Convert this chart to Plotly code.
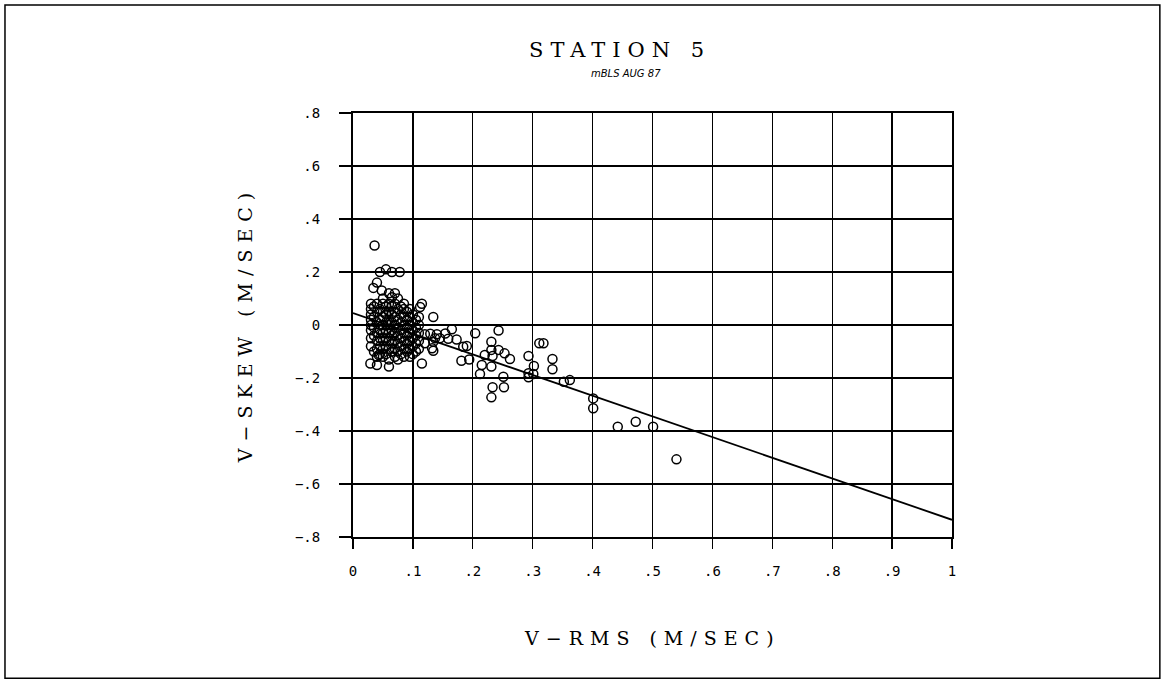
import plotly.graph_objects as go

# ---- data ----
# dense cluster near the origin
cluster_x = [
    0.030, 0.030, 0.030, 0.030, 0.030, 0.030, 0.030, 0.030,
    0.035, 0.035, 0.035, 0.035, 0.035,
    0.040, 0.040, 0.040, 0.040, 0.040, 0.040, 0.040,
    0.045, 0.045, 0.045, 0.045, 0.045, 0.045,
    0.050, 0.050, 0.050, 0.050, 0.050, 0.050, 0.050, 0.050,
    0.055, 0.055, 0.055, 0.055, 0.055, 0.055, 0.055,
    0.060, 0.060, 0.060, 0.060, 0.060, 0.060, 0.060, 0.060,
    0.065, 0.065, 0.065, 0.065, 0.065, 0.065, 0.065,
    0.070, 0.070, 0.070, 0.070, 0.070, 0.070, 0.070, 0.070,
    0.075, 0.075, 0.075, 0.075, 0.075, 0.075, 0.075,
    0.080, 0.080, 0.080, 0.080, 0.080, 0.080, 0.080,
    0.085, 0.085, 0.085, 0.085, 0.085, 0.085, 0.085,
    0.090, 0.090, 0.090, 0.090, 0.090, 0.090,
    0.095, 0.095, 0.095, 0.095, 0.095, 0.095, 0.095,
    0.100, 0.100, 0.100, 0.100, 0.100, 0.100,
    0.105, 0.105, 0.105, 0.105, 0.105,
    0.110, 0.110, 0.110, 0.110, 0.110,
]
cluster_y = [
    0.08, 0.06, 0.04, 0.02, 0.00, -0.02, -0.05, -0.08,
    0.07, 0.03, -0.01, -0.04, -0.10,
    0.08, 0.05, 0.01, -0.03, -0.06, -0.09, -0.12,
    0.06, 0.02, -0.02, -0.05, -0.08, -0.11,
    0.08, 0.05, 0.03, 0.00, -0.03, -0.06, -0.09, -0.12,
    0.07, 0.04, 0.01, -0.02, -0.05, -0.08, -0.11,
    0.08, 0.05, 0.02, 0.00, -0.03, -0.06, -0.09, -0.13,
    0.07, 0.04, 0.01, -0.02, -0.04, -0.07, -0.10,
    0.08, 0.05, 0.03, 0.00, -0.03, -0.06, -0.09, -0.12,
    0.06, 0.02, -0.01, -0.04, -0.07, -0.10, -0.13,
    0.07, 0.04, 0.01, -0.02, -0.05, -0.08, -0.11,
    0.06, 0.03, 0.00, -0.03, -0.06, -0.09, -0.12,
    0.05, 0.02, -0.01, -0.04, -0.07, -0.10,
    0.06, 0.03, 0.00, -0.03, -0.06, -0.09, -0.12,
    0.04, 0.01, -0.02, -0.05, -0.08, -0.11,
    0.02, -0.01, -0.04, -0.07, -0.10,
    0.03, 0.00, -0.03, -0.06, -0.09,
]

# sparser points above the cluster
upper_x = [0.036, 0.045, 0.055, 0.065, 0.078, 0.040, 0.034, 0.048, 0.060,
           0.070, 0.065, 0.115, 0.112, 0.134, 0.085, 0.050, 0.075]
upper_y = [0.30, 0.20, 0.21, 0.20, 0.20, 0.16, 0.14, 0.13, 0.12,
           0.12, 0.105, 0.08, 0.068, 0.03, 0.08, 0.10, 0.10]

# points spreading out to larger V-RMS
spread_x = [0.029, 0.040, 0.060, 0.043, 0.115, 0.120, 0.129, 0.140, 0.154,
            0.165, 0.204, 0.243, 0.145, 0.159, 0.173, 0.134, 0.120, 0.137,
            0.190, 0.184, 0.134, 0.132, 0.181, 0.194, 0.231, 0.231, 0.243,
            0.253, 0.262, 0.220, 0.233, 0.215, 0.231, 0.212, 0.251, 0.311,
            0.318, 0.293, 0.333, 0.302, 0.333, 0.293, 0.301, 0.293, 0.352,
            0.362, 0.233, 0.252, 0.231, 0.401, 0.401, 0.442, 0.472, 0.501,
            0.540]
spread_y = [-0.145, -0.151, -0.157, -0.113, -0.145, -0.035, -0.033, -0.035, -0.032,
            -0.016, -0.031, -0.021, -0.050, -0.052, -0.055, -0.063, -0.069, -0.050,
            -0.079, -0.082, -0.097, -0.088, -0.135, -0.130, -0.063, -0.094, -0.094,
            -0.107, -0.128, -0.113, -0.117, -0.151, -0.157, -0.185, -0.195, -0.069,
            -0.069, -0.117, -0.128, -0.155, -0.167, -0.182, -0.185, -0.197, -0.214,
            -0.208, -0.235, -0.235, -0.273, -0.277, -0.314, -0.384, -0.365, -0.384,
            -0.507]

# fitted line end points
fit_x = [0.0, 1.0]
fit_y = [0.045, -0.735]

# ticks
x_ticks = [0, 0.1, 0.2, 0.3, 0.4, 0.5, 0.6, 0.7, 0.8, 0.9, 1.0]
x_labels = ["0", ".1", ".2", ".3", ".4", ".5", ".6", ".7", ".8", ".9", "1"]
y_ticks = [0.8, 0.6, 0.4, 0.2, 0, -0.2, -0.4, -0.6, -0.8]
y_labels = [".8", ".6", ".4", ".2", "0", "\u2212.2", "\u2212.4", "\u2212.6", "\u2212.8"]

# ---- figure ----
fig = go.Figure()
fig.add_trace(go.Scatter(
    x=cluster_x + upper_x + spread_x,
    y=cluster_y + upper_y + spread_y,
    mode="markers",
    marker=dict(symbol="circle-open", size=9, color="black",
                line=dict(width=1.5, color="black")),
    showlegend=False, hoverinfo="skip",
))
fig.add_trace(go.Scatter(
    x=fit_x, y=fit_y, mode="lines",
    line=dict(color="black", width=1.8),
    showlegend=False, hoverinfo="skip",
))

tick_font = dict(family="DejaVu Sans Mono", size=14, color="black")
title_font = "DejaVu Serif"

fig.update_layout(
    width=1167, height=683,
    paper_bgcolor="white", plot_bgcolor="white",
    margin=dict(l=353, r=215, t=113, b=146),
    xaxis=dict(range=[0, 1], tickvals=x_ticks, ticktext=x_labels,
               showgrid=True, gridcolor="black", gridwidth=1.2,
               showline=True, linecolor="black", linewidth=2, mirror=True,
               ticks="outside", ticklen=10, tickcolor="black", tickwidth=1.2,
               ticklabelstandoff=10, zeroline=False, tickfont=tick_font),
    yaxis=dict(range=[-0.8, 0.8], tickvals=y_ticks, ticktext=y_labels,
               showgrid=True, gridcolor="black", gridwidth=1.8,
               showline=True, linecolor="black", linewidth=2, mirror=True,
               ticks="outside", ticklen=12, tickcolor="black", tickwidth=1.5,
               ticklabelstandoff=16, zeroline=False, tickfont=tick_font),
    annotations=[
        dict(text='<span style="letter-spacing:7px">STATION 5</span>',
             xref="paper", yref="paper", x=0.445, y=1.149,
             xanchor="center", yanchor="middle", showarrow=False,
             font=dict(family=title_font, size=21, color="black")),
        dict(text="<i>mBLS AUG 87</i>",
             xref="paper", yref="paper", x=0.456, y=1.094,
             xanchor="center", yanchor="middle", showarrow=False,
             font=dict(family="DejaVu Sans", size=10, color="black")),
        dict(text='<span style="letter-spacing:7px">V\u2212RMS (M/SEC)</span>',
             xref="paper", yref="paper", x=0.50, y=-0.238,
             xanchor="center", yanchor="middle", showarrow=False,
             font=dict(family=title_font, size=19, color="black")),
        dict(text='<span style="letter-spacing:7px">V\u2212SKEW (M/SEC)</span>',
             xref="paper", yref="paper", x=-0.180, y=0.5, textangle=-90,
             xanchor="center", yanchor="middle", showarrow=False,
             font=dict(family=title_font, size=19, color="black")),
    ],
    shapes=[
        dict(type="rect", xref="paper", yref="paper",
             x0=-0.581, x1=1.347, y0=-0.333, y1=1.255,
             line=dict(color="black", width=1.5), layer="below"),
    ],
)

fig.write_html("out.html",
               config={"displayModeBar": False, "staticPlot": True},
               post_script="document.body.style.margin='0px';"
                           "document.body.style.overflow='hidden';")
